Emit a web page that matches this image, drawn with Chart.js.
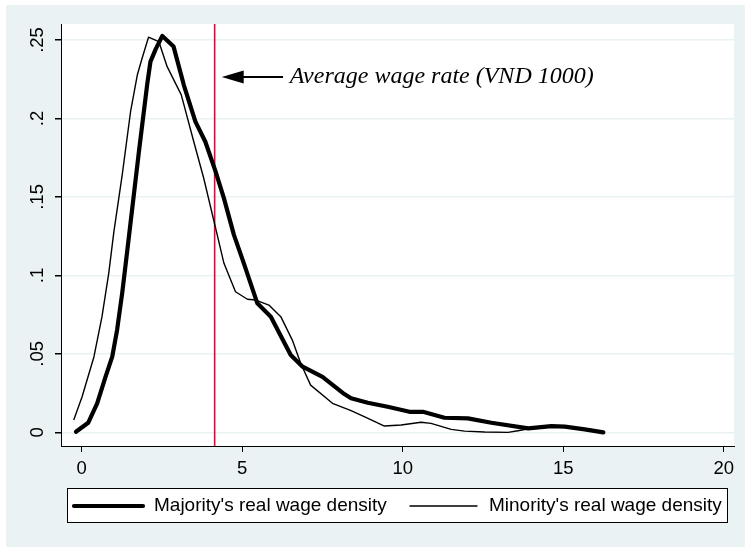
<!DOCTYPE html>
<html>
<head>
<meta charset="utf-8">
<script src="https://cdn.jsdelivr.net/npm/chart.js@4.4.1/dist/chart.umd.min.js"></script>
<style>
body { margin: 0; background: #fff; }
#wrap { position: absolute; left: 0; top: 0; width: 745px; height: 547px; }
</style>
</head>
<body>
<div id="wrap"><canvas id="myChart" width="745" height="547"></canvas></div>
<script>
// majority (thick line)
var majX = [-0.18, 0.20, 0.48, 0.74, 0.95, 1.10, 1.26, 1.42, 1.78, 2.04, 2.14, 2.30, 2.51, 2.86, 3.18, 3.54, 3.85, 4.17, 4.43, 4.74, 5.05, 5.47, 5.89, 6.51, 6.88, 7.50, 8.18, 8.39, 8.91, 9.53, 10.21, 10.63, 11.30, 12.03, 12.76, 13.91, 14.63, 15.05, 15.67, 16.25];
var majY = [0.0004, 0.0061, 0.0185, 0.0354, 0.0482, 0.0652, 0.0888, 0.1162, 0.1788, 0.2220, 0.2362, 0.2440, 0.2526, 0.2458, 0.2213, 0.1980, 0.1852, 0.1661, 0.1491, 0.1258, 0.1077, 0.0822, 0.0737, 0.0493, 0.0418, 0.0354, 0.0244, 0.0217, 0.0189, 0.0163, 0.0131, 0.0131, 0.0093, 0.0089, 0.0061, 0.0025, 0.0040, 0.0036, 0.0019, 0.0];

// minority (thin line)
var minX = [-0.25, 0.01, 0.38, 0.63, 0.84, 1.00, 1.26, 1.52, 1.73, 1.88, 2.08, 2.40, 2.66, 3.10, 3.49, 3.80, 4.22, 4.43, 4.79, 5.16, 5.42, 5.83, 6.20, 6.56, 6.82, 7.13, 7.81, 8.39, 8.85, 9.43, 9.95, 10.57, 10.88, 11.51, 11.93, 12.55, 13.28, 13.59, 14.00, 14.63, 15.05, 15.67, 16.25];
var minY = [0.0078, 0.0227, 0.0482, 0.0737, 0.1013, 0.1277, 0.1640, 0.2043, 0.2277, 0.2384, 0.2518, 0.2490, 0.2330, 0.2150, 0.1852, 0.1619, 0.1258, 0.1077, 0.0896, 0.0848, 0.0843, 0.0811, 0.0737, 0.0588, 0.0440, 0.0301, 0.0185, 0.0138, 0.0095, 0.0040, 0.0047, 0.0064, 0.0057, 0.0019, 0.0008, 0.0002, 0.0, 0.0010, 0.0025, 0.0040, 0.0036, 0.0019, 0.0];

var xTicks = [0, 5, 10, 15, 20];
var xTickLabels = ['0', '5', '10', '15', '20'];
var yTicks = [0, 0.05, 0.1, 0.15, 0.2, 0.25];
var yTickLabels = ['0', '.05', '.1', '.15', '.2', '.25'];
var seriesNames = ["Majority's real wage density", "Minority's real wage density"];

var avgWage = 4.14;
var noteText = 'Average wage rate (VND 1000)';
// where the arrow sits, in data units
var arrowY = 0.2265, arrowTip = 4.36, arrowTail = 6.27, noteX = 6.48;

function pts(xs, ys) {
	var out = [];
	for (var i = 0; i < xs.length; i++) out.push({x: xs[i], y: ys[i]});
	return out;
}

var sans = '"Liberation Sans", Arial, sans-serif';

var stataBits = {
	id: 'stataBits',
	beforeDraw: function (chart) {
		var c = chart.ctx, a = chart.chartArea;
		c.save();
		c.fillStyle = '#EAF2F3';
		c.fillRect(6, 5, chart.width - 6, chart.height - 5);
		c.fillStyle = '#fff';
		c.fillRect(a.left, a.top, a.right - a.left, a.bottom - a.top);
		c.restore();
	},
	beforeDatasetsDraw: function (chart) {
		var c = chart.ctx, a = chart.chartArea;
		var x = chart.scales.x.getPixelForValue(avgWage);
		c.save();
		c.strokeStyle = '#C8143F';
		c.lineWidth = 1.6;
		c.beginPath();
		c.moveTo(x, a.top);
		c.lineTo(x, a.bottom);
		c.stroke();
		c.restore();
	},
	afterDraw: function (chart) {
		var c = chart.ctx;
		var xs = chart.scales.x, ys = chart.scales.y;
		c.save();
		// y tick labels, turned like Stata does
		c.fillStyle = '#000';
		c.font = '18.5px ' + sans;
		c.textAlign = 'center';
		c.textBaseline = 'middle';
		for (var i = 0; i < yTicks.length; i++) {
			var py = ys.getPixelForValue(yTicks[i]);
			c.save();
			c.translate(38, py);
			c.rotate(-Math.PI / 2);
			c.fillText(yTickLabels[i], 0, 0);
			c.restore();
		}
		// arrow + note
		var ay = ys.getPixelForValue(arrowY);
		var tip = xs.getPixelForValue(arrowTip);
		var tail = xs.getPixelForValue(arrowTail);
		c.strokeStyle = '#000';
		c.lineWidth = 2;
		c.beginPath();
		c.moveTo(tip + 15, ay);
		c.lineTo(tail, ay);
		c.stroke();
		c.beginPath();
		c.moveTo(tip, ay);
		c.lineTo(tip + 22, ay - 6.5);
		c.lineTo(tip + 22, ay + 6.5);
		c.closePath();
		c.fill();
		c.font = 'italic 24px "Liberation Serif", "Times New Roman", serif';
		c.textAlign = 'left';
		c.fillText(noteText, xs.getPixelForValue(noteX), ay);
		// legend box
		var lx = 67, ly = 488, lw = 660, lh = 34;
		c.fillStyle = '#fff';
		c.fillRect(lx, ly, lw, lh);
		c.strokeStyle = '#000';
		c.lineWidth = 1;
		c.strokeRect(lx + 0.5, ly + 0.5, lw, lh);
		var keys = [[74, 143, 154], [410, 477, 489]];
		var my = ly + lh / 2 + 1;
		c.font = '19px ' + sans;
		for (var k = 0; k < 2; k++) {
			var ds = chart.data.datasets[k];
			c.strokeStyle = ds.borderColor;
			c.lineWidth = ds.borderWidth;
			c.lineCap = 'round';
			c.beginPath();
			c.moveTo(keys[k][0], my);
			c.lineTo(keys[k][1], my);
			c.stroke();
			c.fillStyle = '#000';
			c.fillText(ds.label, keys[k][2], my);
		}
		c.restore();
	}
};

var ctx = document.getElementById('myChart');
var myChart = new Chart(ctx, {
	type: 'line',
	data: {
		datasets: [{
			label: seriesNames[0],
			data: pts(majX, majY),
			borderColor: '#000',
			borderWidth: 4.2,
			pointRadius: 0,
			tension: 0,
			borderJoinStyle: 'round',
			borderCapStyle: 'round',
			fill: false
		}, {
			label: seriesNames[1],
			data: pts(minX, minY),
			borderColor: '#000',
			borderWidth: 1.4,
			pointRadius: 0,
			tension: 0,
			borderJoinStyle: 'round',
			fill: false
		}]
	},
	options: {
		responsive: false,
		animation: false,
		devicePixelRatio: 1,
		layout: { padding: { left: 0, top: 24, right: 11, bottom: 0 } },
		plugins: { legend: { display: false }, tooltip: { enabled: false } },
		scales: {
			x: {
				type: 'linear',
				min: -0.647,
				max: 20.32,
				afterBuildTicks: function (scale) {
					scale.ticks = xTicks.map(function (v) { return {value: v}; });
				},
				afterFit: function (scale) { scale.height = 101; },
				ticks: {
					autoSkip: false,
					maxRotation: 0,
					color: '#000',
					font: { family: sans, size: 18.5 },
					padding: 6,
					callback: function (v, i) { return xTickLabels[i]; }
				},
				grid: { drawOnChartArea: false, tickLength: 6, tickColor: '#000', lineWidth: 1 },
				border: { color: '#000', width: 1 }
			},
			y: {
				type: 'linear',
				min: -0.0087,
				max: 0.2602,
				afterBuildTicks: function (scale) {
					scale.ticks = yTicks.map(function (v) { return {value: v}; });
				},
				afterFit: function (scale) { scale.width = 61; },
				ticks: { display: false },
				grid: { color: '#EAF2F3', lineWidth: 1.5, tickLength: 6, tickColor: '#000' },
				border: { color: '#000', width: 1 }
			}
		}
	},
	plugins: [stataBits]
});
</script>
</body>
</html>
